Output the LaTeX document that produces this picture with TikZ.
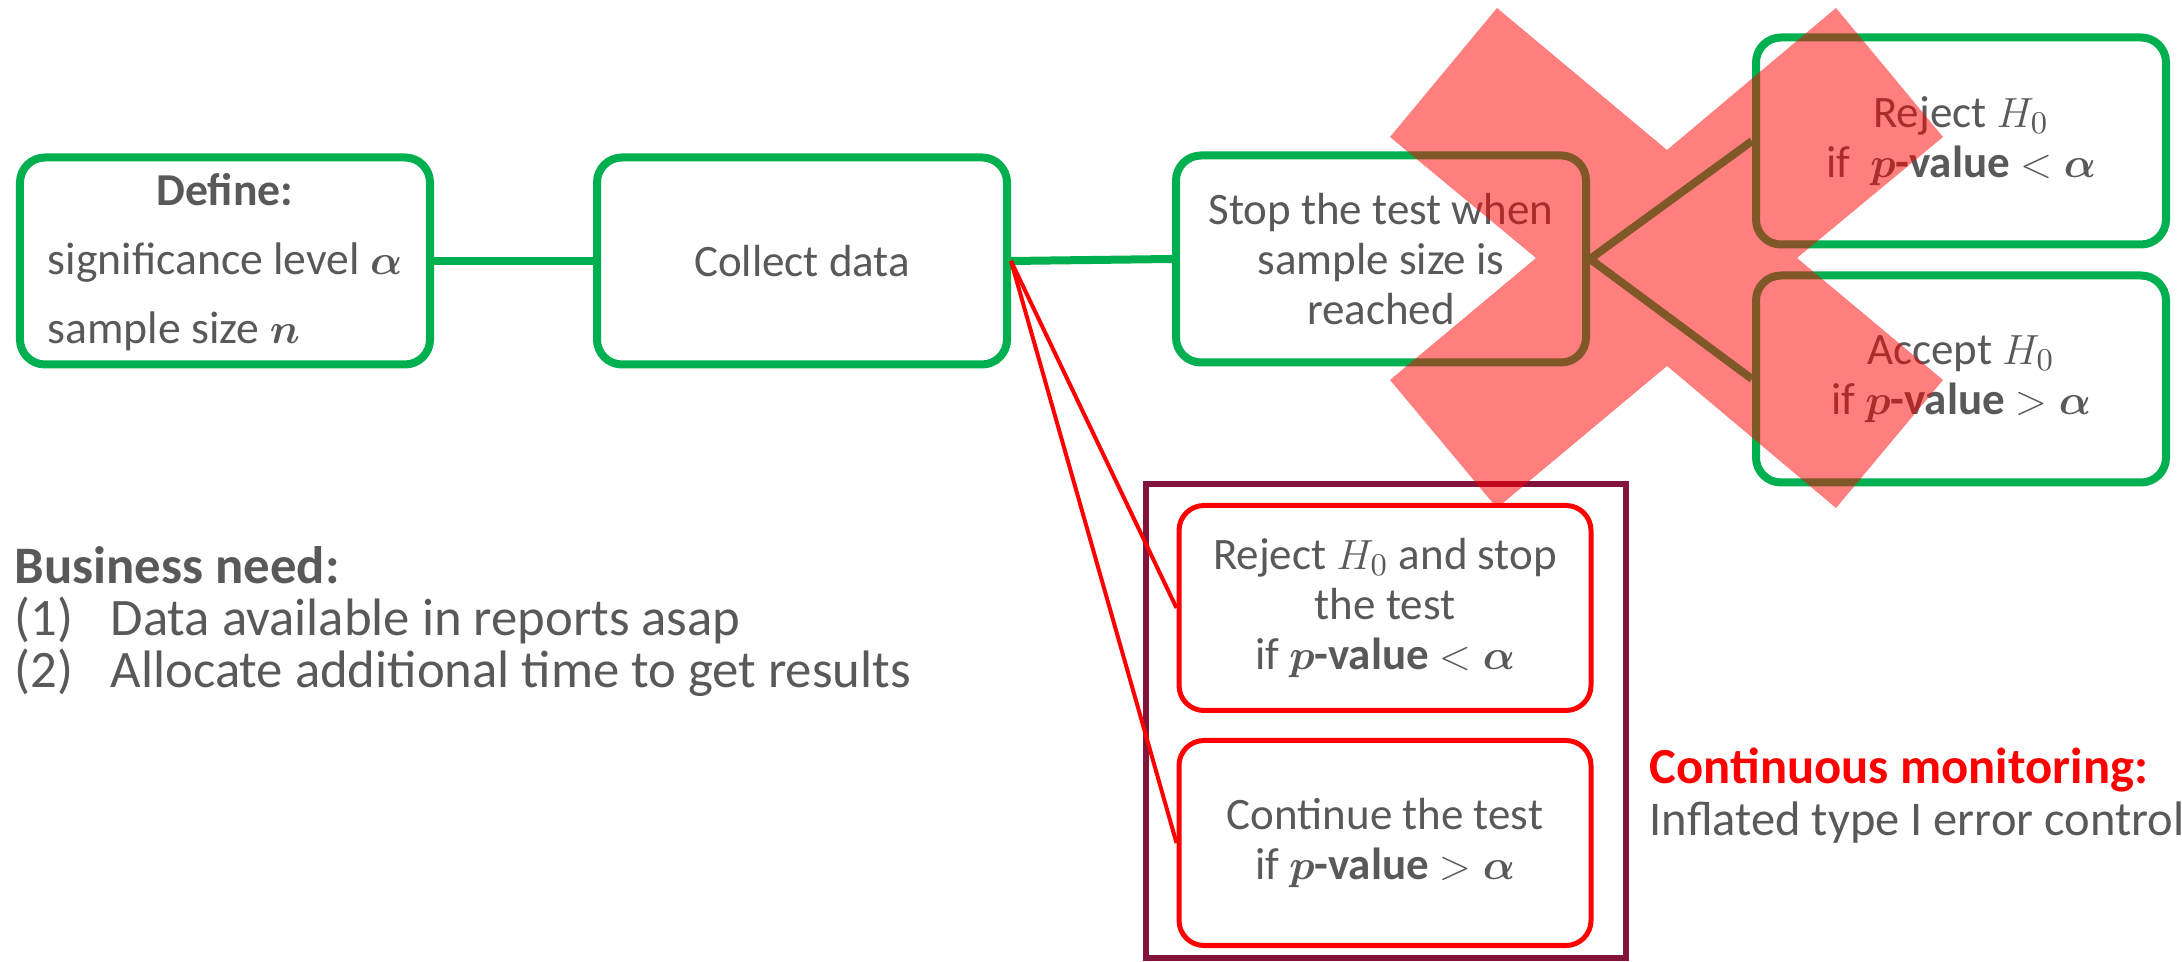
\documentclass[tikz,border=0pt]{standalone}
\usepackage{amsmath}
\usepackage{bm}
\usepackage{fontspec}
\setmainfont{Carlito}
\begin{document}
\begin{tikzpicture}[font=\fontsize{12.8}{14.3}\selectfont]

  % Colors
  \definecolor{boxgreen}{RGB}{0,176,80}
  \definecolor{textgray}{RGB}{89,89,89}
  \definecolor{framered}{RGB}{130,20,60}

  % Styles
  \tikzset{
    box/.style={
      rectangle, draw=#1, text=textgray,
      minimum width=4.1cm, minimum height=2.07cm,
      align=center, rounded corners=0.25cm,
    },
    greenbox/.style={box=boxgreen, line width=0.08cm},
    redbox/.style={box=red, line width=0.05cm, minimum width=4.12cm, minimum height=2.05cm},
    link/.style={draw=boxgreen, line width=0.08cm},
    redlink/.style={draw=red, line width=0.04cm},
  }

  % Picture size
  \useasboundingbox (0,0) rectangle (21.82,-9.62);

  % Fixed-horizon test (top row)
  \node[greenbox, inner sep=0pt] (define) at (2.25,-2.61) {\fontsize{13}{19.6}\selectfont
    \begin{tabular}{@{}l@{}}
      \multicolumn{1}{@{}c@{}}{\textbf{Define:}}\\
      significance level $\bm{\alpha}$\\
      sample size $\bm{n}$
    \end{tabular}};
  \node[greenbox] (collect) at (8.02,-2.61) {Collect data};
  \node[greenbox] (stop) at (13.81,-2.59) {Stop the test when\\sample size is\\reached};
  \node[greenbox] (reject) at (19.61,-1.41) {Reject $H_0$\\if\ \ $\bm{p}$\textbf{-value} $<\bm{\alpha}$};
  \node[greenbox] (accept) at (19.61,-3.79) {Accept $H_0$\\if $\bm{p}$\textbf{-value} $>\bm{\alpha}$};

  % Green connectors
  \draw[link] (define.east) -- (collect.west);
  \draw[link] (collect.east) -- (stop.west);
  \draw[link] (stop.east) -- (reject.west);
  \draw[link] (stop.east) -- (accept.west);

  % Continuous monitoring (bottom)
  \node[draw=framered, line width=0.06cm, minimum width=4.8cm, minimum height=4.74cm] (frame) at (13.86,-7.21) {};
  \node[redbox] (rejstop) at (13.85,-6.08) {Reject $H_0$ and stop\\the test\\if $\bm{p}$\textbf{-value} $<\bm{\alpha}$};
  \node[redbox] (cont) at (13.85,-8.43) {Continue the test\\if $\bm{p}$\textbf{-value} $>\bm{\alpha}$};

  % Red connectors
  \draw[redlink] (collect.east) -- (rejstop.west);
  \draw[redlink] (collect.east) -- (cont.west);

  % Side texts
  \node[anchor=north west, inner sep=0, align=left, text=textgray, font=\fontsize{15}{14.8}\selectfont] (need) at (0.14,-5.46)
    {\textbf{Business need:}\\
     \makebox[0.96cm][l]{(1)}Data available in reports asap\\
     \makebox[0.96cm][l]{(2)}Allocate additional time to get results};
  \node[anchor=north west, inner sep=0, align=left, text=textgray, font=\fontsize{13.8}{14.8}\selectfont] (monitor) at (16.49,-7.47)
    {\textcolor{red}{\fontsize{14.4}{14.8}\selectfont\textbf{Continuous monitoring:}}\\
     Inflated type I error control};

  % Cross over the fixed-horizon decision
  \fill[red, fill opacity=0.5] (14.97,-0.08) -- (16.67,-1.50) -- (18.36,-0.08) -- (19.43,-1.37)
    -- (17.97,-2.58) -- (19.43,-3.80) -- (18.36,-5.08) -- (16.67,-3.66) -- (14.97,-5.08)
    -- (13.90,-3.80) -- (15.36,-2.58) -- (13.90,-1.37) -- cycle;

\end{tikzpicture}
\end{document}
